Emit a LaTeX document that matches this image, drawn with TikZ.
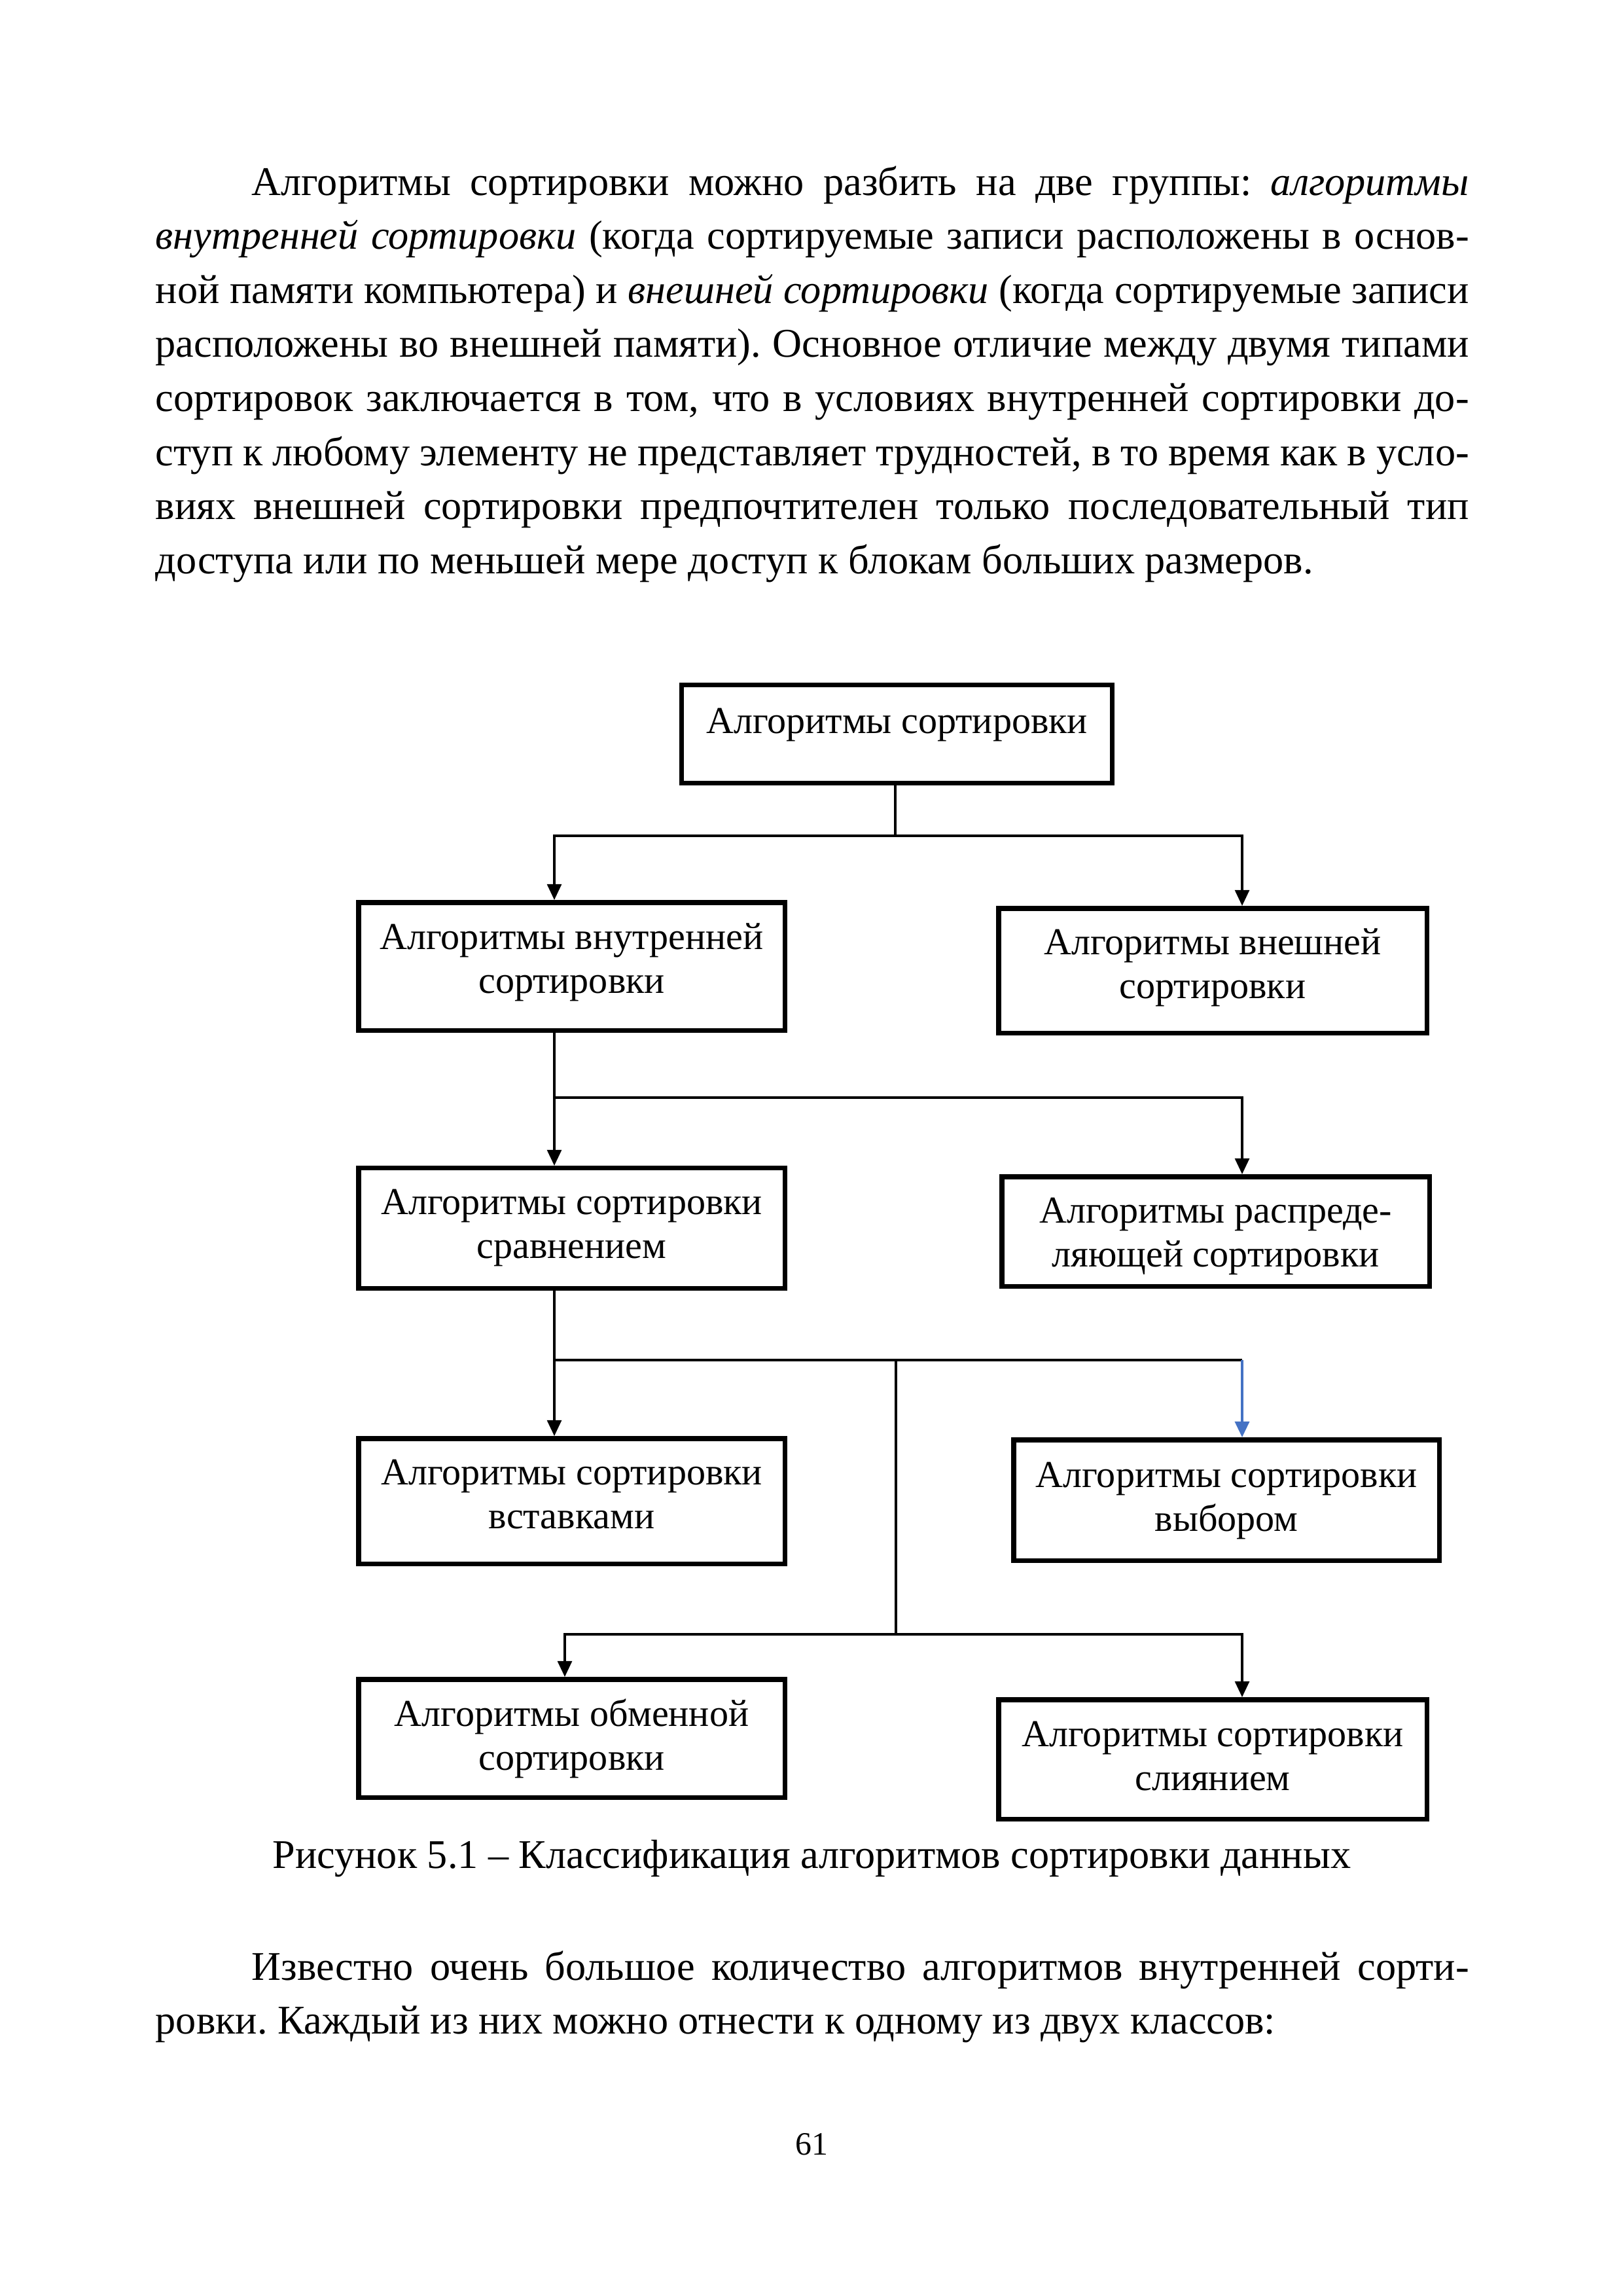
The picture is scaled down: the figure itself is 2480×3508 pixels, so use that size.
\documentclass[tikz,border=0pt]{standalone}
\usepackage{fontspec}
\setmainfont{Liberation Serif}
\usetikzlibrary{arrows.meta}
\definecolor{arrblue}{HTML}{4472C4}
\frenchspacing
\begin{document}
\begin{tikzpicture}[x=0.0846667mm,y=-0.0846667mm,
  box/.style={draw, line width=1.8pt, inner sep=0pt},
  btxt/.style={inner sep=0pt, anchor=base, font=\fontsize{14pt}{16.3pt}\selectfont},
  ptxt/.style={inner sep=0pt, anchor=base west},
  conn/.style={line width=0.85pt},
  arr/.style={line width=0.85pt, -{Triangle[length=2.05mm,width=1.85mm]}},
  barr/.style={arr, draw=arrblue, line width=1pt}]
\fill[white] (0,0) rectangle (2480,3508);
\useasboundingbox (0,0) rectangle (2480,3508);

% paragraph
\node[ptxt] (para) at (237,298) {\parbox[t]{169.93mm}{\frenchspacing\fontsize{15pt}{19.9pt}\selectfont
\hbox to \linewidth{\hskip12.45mm Алгоритмы сортировки можно разбить на две группы: \textit{алгоритмы}}%
\hbox to \linewidth{\textit{внутренней сортировки} (когда сортируемые записи расположены в основ-}%
\hbox to \linewidth{ной памяти компьютера) и \textit{внешней сортировки} (когда сортируемые записи}%
\hbox to \linewidth{расположены во внешней памяти). Основное отличие между двумя типами}%
\hbox to \linewidth{сортировок заключается в том, что в условиях внутренней сортировки до-}%
\hbox to \linewidth{ступ к любому элементу не представляет трудностей, в то время как в усло-}%
\hbox to \linewidth{виях внешней сортировки предпочтителен только последовательный тип}%
\hbox{доступа или по меньшей мере доступ к блокам больших размеров.}}};

% boxes
\node[box, minimum width=55.67mm, minimum height=12.66mm] (top) at (1370.5,1121.5) {};
\node[box, minimum width=55.16mm, minimum height=16.55mm] (L1) at (873.5,1476.5) {};
\node[box, minimum width=55.41mm, minimum height=16.13mm] (R1) at (1853,1483) {};
\node[box, minimum width=55.16mm, minimum height=15.54mm] (L2) at (873.5,1876.5) {};
\node[box, minimum width=55.33mm, minimum height=14.18mm] (R2) at (1857.5,1881.5) {};
\node[box, minimum width=55.16mm, minimum height=16.21mm] (L3) at (873.5,2293.5) {};
\node[box, minimum width=55.07mm, minimum height=15.62mm] (R3) at (1874,2292) {};
\node[box, minimum width=55.16mm, minimum height=15.28mm] (L4) at (873.5,2656) {};
\node[box, minimum width=55.41mm, minimum height=15.45mm] (R4) at (1853,2688) {};

% box texts
\node[btxt] (tTop) at (1370.5,1120) {Алгоритмы сортировки};
\node[btxt] (tL1) at (873.5,1450) {\begin{tabular}[t]{@{}c@{}}Алгоритмы внутренней\\сортировки\end{tabular}};
\node[btxt] (tR1) at (1853,1458) {\begin{tabular}[t]{@{}c@{}}Алгоритмы внешней\\сортировки\end{tabular}};
\node[btxt] (tL2) at (873.5,1855) {\begin{tabular}[t]{@{}c@{}}Алгоритмы сортировки\\сравнением\end{tabular}};
\node[btxt] (tR2) at (1857.5,1868) {\begin{tabular}[t]{@{}c@{}}Алгоритмы распреде-\\ляющей сортировки\end{tabular}};
\node[btxt] (tL3) at (873.5,2268) {\begin{tabular}[t]{@{}c@{}}Алгоритмы сортировки\\вставками\end{tabular}};
\node[btxt] (tR3) at (1874,2272) {\begin{tabular}[t]{@{}c@{}}Алгоритмы сортировки\\выбором\end{tabular}};
\node[btxt] (tL4) at (873.5,2637) {\begin{tabular}[t]{@{}c@{}}Алгоритмы обменной\\сортировки\end{tabular}};
\node[btxt] (tR4) at (1853,2668) {\begin{tabular}[t]{@{}c@{}}Алгоритмы сортировки\\слиянием\end{tabular}};

% junctions
\coordinate (j0) at (1368,1277);
\coordinate (a1) at (847,1277);
\coordinate (a2) at (1898,1277);
\coordinate (b1) at (847,1677);
\coordinate (b2) at (1898,1677);
\coordinate (c1) at (847,2078);
\coordinate (cm) at (1369,2078);
\coordinate (c2) at (1898,2078);
\coordinate (d0) at (1369,2497);
\coordinate (d1) at (863,2497);
\coordinate (d2) at (1898,2497);

% connectors
\draw[conn] (top.south -| j0) -- (j0);
\draw[arr] (j0) -| (L1.north -| a1);
\draw[arr] (j0) -| (R1.north -| a2);

\draw[arr] (L1.south -| b1) -- (L2.north -| b1);
\draw[arr] (b1) -| (R2.north -| b2);

\draw[arr] (L2.south -| c1) -- (L3.north -| c1);
\draw[conn] (c1) -- (c2);
\draw[barr] (c2) -- (R3.north -| c2);

\draw[conn] (cm) -- (d0);
\draw[arr] (d0) -| (L4.north -| d1);
\draw[arr] (d0) -| (R4.north -| d2);

% caption
\node[inner sep=0pt, anchor=base, font=\fontsize{15pt}{19.9pt}\selectfont] (cap) at (1240.5,2854) {Рисунок 5.1 – Классификация алгоритмов сортировки данных};

% second paragraph
\node[ptxt] (para2) at (237,3025) {\parbox[t]{169.93mm}{\frenchspacing\fontsize{15pt}{19.9pt}\selectfont
\hbox to \linewidth{\hskip12.45mm Известно очень большое количество алгоритмов внутренней сорти-}%
\hbox{ровки. Каждый из них можно отнести к одному из двух классов:}}};

% page number
\node[inner sep=0pt, anchor=base, font=\fontsize{12pt}{14pt}\selectfont] (pg) at (1240,3292) {61};
\end{tikzpicture}
\end{document}
